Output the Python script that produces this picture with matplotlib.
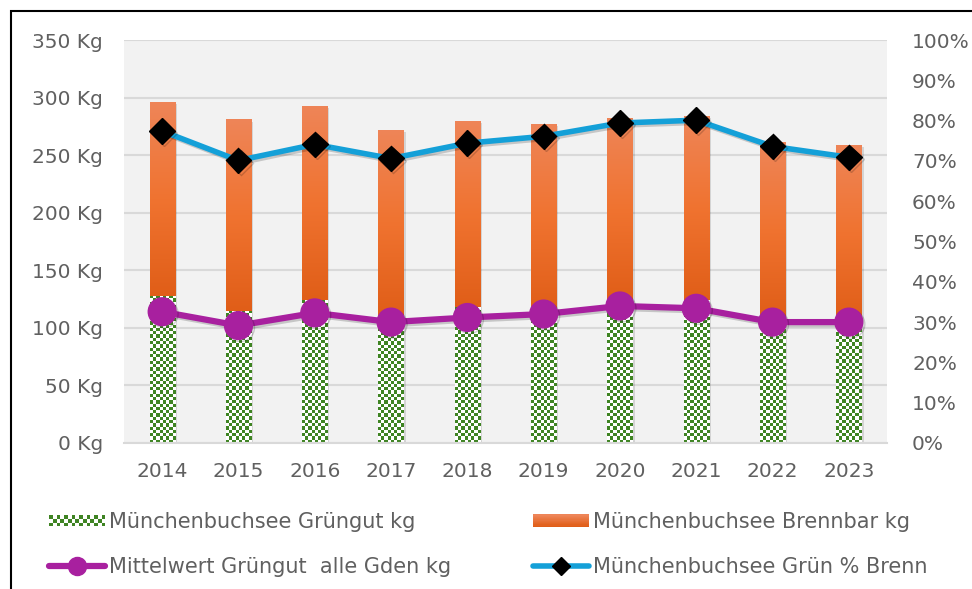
import matplotlib
matplotlib.use('Agg')
import matplotlib.pyplot as plt
import numpy as np
import matplotlib.patheffects as pe
from matplotlib.patches import Rectangle
from matplotlib.lines import Line2D
from matplotlib.legend_handler import HandlerBase
from matplotlib.colors import to_rgb

# ---- data ----
years = ['2014', '2015', '2016', '2017', '2018', '2019', '2020', '2021', '2022', '2023']
gruengut = [128, 115, 124, 111, 118, 115, 124, 124, 110, 107]
brennbar = [168, 166, 169, 161, 162, 162, 158, 160, 151, 152]
mittelwert = [114, 102, 113, 105, 109, 112, 119, 117, 105, 105]
gruen_pct = [77.4, 70.1, 74.1, 70.6, 74.4, 76.1, 79.4, 80.1, 73.6, 70.9]
left_ticks = [0, 50, 100, 150, 200, 250, 300, 350]
right_ticks = [0, 10, 20, 30, 40, 50, 60, 70, 80, 90, 100]

labels = ['Münchenbuchsee Grüngut kg', 'Münchenbuchsee Brennbar kg',
          'Mittelwert Grüngut  alle Gden kg', 'Münchenbuchsee Grün % Brenn']

GREEN = '#3f8423'
PURPLE = '#a8209f'
BLUE = '#14a0d8'
TXT = '#606060'
FONT = 'DejaVu Sans'
plt.rcParams['font.family'] = [FONT]
TICK_FS = 14.5
LEG_FS = 15

W, H = 972, 589
fig = plt.figure(figsize=(W / 100, H / 100), dpi=100)
L, R, T, B = 124, 887, 40, 443
ax = fig.add_axes([L / W, 1 - B / H, (R - L) / W, (B - T) / H])
ax.set_facecolor('#f2f2f2')
ax.set_axisbelow(True)

x = np.arange(len(years))
ax.set_xlim(-0.5, len(years) - 0.5)
ax.set_ylim(0, 350)
px_per_x = (R - L) / len(years)
px_per_kg = (B - T) / 350
bw = 0.33

shadow = [pe.SimplePatchShadow(offset=(1.5, -1.5), alpha=0.12, shadow_rgbFace='black'), pe.Normal()]

# green checkerboard bars
bars_g = ax.bar(x, gruengut, width=bw, color='white', edgecolor='none', zorder=2,
                path_effects=shadow)
g = np.array(to_rgb(GREEN))
wcol = np.array([1, 1, 1])
for bar in bars_g:
    bx, by = bar.get_x(), bar.get_y()
    bwid, bh = bar.get_width(), bar.get_height()
    nx = max(1, int(round(bwid * px_per_x / 3.3)))
    ny = max(1, int(round(bh * px_per_kg / 3.3)))
    ii, jj = np.meshgrid(np.arange(nx), np.arange(ny))
    mask = ((ii + jj) % 2 == 0)[..., None]
    img = np.where(mask, g, wcol)
    im = ax.imshow(img, extent=(bx, bx + bwid, by, by + bh), origin='lower',
                   aspect='auto', interpolation='nearest', zorder=2.1)
    im.set_clip_path(bar)

# orange gradient bars
bars_o = ax.bar(x, brennbar, bottom=gruengut, width=bw, color='#ee7330', edgecolor='none',
                zorder=2, path_effects=shadow)
top_c = np.array(to_rgb('#ee8558'))
mid_c = np.array(to_rgb('#f07330'))
bot_c = np.array(to_rgb('#e05e18'))
tt = np.linspace(0, 1, 200)[:, None]
grad = np.where(tt < 0.5, bot_c + (mid_c - bot_c) * (tt / 0.5), mid_c + (top_c - mid_c) * ((tt - 0.5) / 0.5))
grad = grad[:, None, :]
for bar in bars_o:
    bx, by = bar.get_x(), bar.get_y()
    bwid, bh = bar.get_width(), bar.get_height()
    im = ax.imshow(grad, extent=(bx, bx + bwid, by, by + bh), origin='lower',
                   aspect='auto', interpolation='bilinear', zorder=2.1)
    im.set_clip_path(bar)

ax.set_xlim(-0.5, len(years) - 0.5)
ax.set_ylim(0, 350)

line_shadow = [pe.SimpleLineShadow(offset=(1.5, -1.5), alpha=0.18, shadow_color='black'), pe.Normal()]
ax.plot(x, mittelwert, color=PURPLE, lw=4.5, marker='o', ms=20, mfc=PURPLE, mec=PURPLE,
        zorder=4, path_effects=line_shadow, solid_capstyle='round')

ax.set_yticks(left_ticks)
ax.set_yticklabels([f'{v} Kg' for v in left_ticks])
ax.set_xticks(x)
ax.set_xticklabels(years)
ax.grid(axis='y', color='#d9d9d9', lw=1.5)
for s in ['top', 'left', 'right']:
    ax.spines[s].set_visible(False)
ax.spines['bottom'].set_color('#d9d9d9')
ax.spines['bottom'].set_linewidth(1.5)
ax.tick_params(axis='both', length=0, labelsize=TICK_FS, labelcolor=TXT)
ax.tick_params(axis='y', pad=15)
ax.tick_params(axis='x', pad=14)

ax2 = ax.twinx()
ax2.set_ylim(0, 100)
ax2.plot(x, gruen_pct, color=BLUE, lw=4, marker='D', ms=13, mfc='black', mec='black',
         zorder=5, path_effects=line_shadow)
ax2.set_yticks(right_ticks)
ax2.set_yticklabels([f'{v}%' for v in right_ticks])
ax2.tick_params(axis='y', length=0, labelsize=TICK_FS, labelcolor=TXT, pad=18)
for s in ax2.spines.values():
    s.set_visible(False)
ax2.set_xlim(-0.5, len(years) - 0.5)


class CheckerHandler(HandlerBase):
    def create_artists(self, legend, orig_handle, xdescent, ydescent, width, height, fontsize, trans):
        arts = []
        n, m = 15, 3
        h = height * 0.75
        y0 = -ydescent + (height - h) / 2
        cw, ch = width / n, h / m
        for i in range(n):
            for j in range(m):
                c = GREEN if (i + j) % 2 == 0 else 'white'
                arts.append(Rectangle((-xdescent + i * cw, y0 + j * ch), cw, ch,
                                      facecolor=c, edgecolor='none', transform=trans))
        return arts


class GradHandler(HandlerBase):
    def create_artists(self, legend, orig_handle, xdescent, ydescent, width, height, fontsize, trans):
        arts = []
        n = 10
        h = height * 0.85
        y0 = -ydescent + (height - h) / 2
        for k in range(n):
            f = k / (n - 1)
            c = bot_c + (top_c - bot_c) * f
            arts.append(Rectangle((-xdescent, y0 + k * h / n), width, h / n + 0.01,
                                  facecolor=c, edgecolor='none', transform=trans))
        return arts


h_g = Rectangle((0, 0), 1, 1)
h_o = Rectangle((0, 0), 1, 1, facecolor='#ee7330')
h_m = Line2D([], [], color=PURPLE, lw=4.5, marker='o', ms=13, solid_capstyle='round')
h_b = Line2D([], [], color=BLUE, lw=4, marker='D', ms=9, mfc='black', mec='black', solid_capstyle='round')

leg_kw = dict(frameon=False, fontsize=LEG_FS, labelcolor=TXT, handlelength=2.7, handletextpad=0.2,
              labelspacing=1.2, borderaxespad=0, borderpad=0, loc='upper left')
leg1 = fig.legend([h_g, h_m], [labels[0], labels[2]], bbox_to_anchor=(49 / W, 1 - 512 / H),
                  handler_map={h_g: CheckerHandler()}, **leg_kw)
leg2 = fig.legend([h_o, h_b], [labels[1], labels[3]], bbox_to_anchor=(533 / W, 1 - 512 / H),
                  handler_map={h_o: GradHandler()}, **leg_kw)

fig.patches.append(Rectangle((11 / W, -0.1), 1.2, 1 - 11 / H + 0.1, transform=fig.transFigure,
                             fill=False, edgecolor='black', lw=1.5, zorder=10))

fig.savefig('out.png', dpi=100)
